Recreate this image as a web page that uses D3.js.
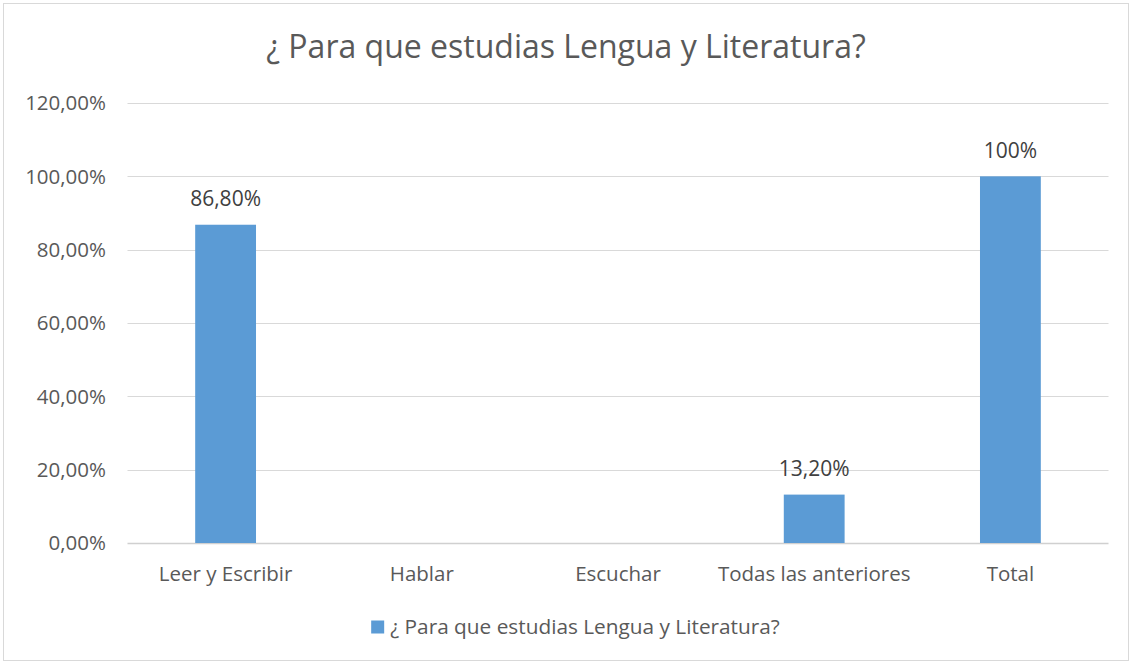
<!DOCTYPE html>
<meta charset="utf-8">
<style>
body { margin: 0; background: #fff; }
text { font-family: "Open Sans", sans-serif; }
.tick-label { font-size: 20.5px; fill: #595959; }
.cat-label { font-size: 20.5px; fill: #595959; }
.value-label { font-size: 21px; fill: #404040; }
.title { font-size: 32px; fill: #595959; }
.legend-label { font-size: 20.8px; fill: #595959; }
</style>
<svg width="1132" height="664"></svg>
<script src="https://cdn.jsdelivr.net/npm/d3@7"></script>
<script>

var categories = ["Leer y Escribir", "Hablar", "Escuchar", "Todas las anteriores", "Total"];
var values = [0.868, null, null, 0.132, 1.0];
var valueLabels = ["86,80%", "", "", "13,20%", "100%"];
var yTicks = [0, 0.2, 0.4, 0.6, 0.8, 1.0, 1.2];
var seriesName = "¿ Para que estudias Lengua y Literatura?";
var title = "¿ Para que estudias Lengua y Literatura?";

var svg = d3.select("svg");

// chart frame
svg.append("rect")
    .attr("x", 3.5).attr("y", 3.5)
    .attr("width", 1125).attr("height", 657)
    .attr("fill", "#fff")
    .attr("stroke", "#d9d9d9");

var x = d3.scaleBand()
    .domain(categories)
    .range([127.5, 1108.5])
    .paddingInner(0.69)
    .paddingOuter(0.345);

var y = d3.scaleLinear()
    .domain([0, 1.2])
    .range([543, 103]);

// gridlines
svg.append("g").selectAll("line")
    .data(yTicks)
    .enter().append("line")
      .attr("x1", 127.5).attr("x2", 1108.5)
      .attr("y1", function(d) { return Math.round(y(d)) + 0.5; })
      .attr("y2", function(d) { return Math.round(y(d)) + 0.5; })
      .attr("stroke", function(d) { return d === 0 ? "#d0d0d0" : "#d9d9d9"; })
      .attr("stroke-width", function(d) { return d === 0 ? 1.5 : 1; });

// y tick labels
var fmt = function(d) { return d3.format(".2f")(d * 100).replace(".", ",") + "%"; };
svg.append("g").selectAll("text")
    .data(yTicks)
    .enter().append("text")
      .attr("class", "tick-label")
      .attr("x", 106)
      .attr("y", function(d) { return y(d); })
      .attr("dy", "0.35em")
      .attr("text-anchor", "end")
      .text(fmt);

var data = categories.map(function(c, i) { return { cat: c, value: values[i], label: valueLabels[i] }; });

// bars
svg.append("g").selectAll("rect")
    .data(data.filter(function(d) { return d.value != null; }))
    .enter().append("rect")
      .attr("x", function(d) { return x(d.cat); })
      .attr("width", x.bandwidth())
      .attr("y", function(d) { return y(d.value); })
      .attr("height", function(d) { return y(0) - y(d.value); })
      .attr("fill", "#5b9bd5");

// value labels
svg.append("g").selectAll("text")
    .data(data.filter(function(d) { return d.value != null; }))
    .enter().append("text")
      .attr("class", "value-label")
      .attr("x", function(d) { return x(d.cat) + x.bandwidth() / 2; })
      .attr("y", function(d) { return y(d.value) - 26; })
      .attr("dy", "0.35em")
      .attr("text-anchor", "middle")
      .text(function(d) { return d.label; });

// category labels
svg.append("g").selectAll("text")
    .data(categories)
    .enter().append("text")
      .attr("class", "cat-label")
      .attr("x", function(d) { return x(d) + x.bandwidth() / 2; })
      .attr("y", 574)
      .attr("dy", "0.35em")
      .attr("text-anchor", "middle")
      .text(function(d) { return d; });

// title
svg.append("text")
    .attr("class", "title")
    .attr("x", 566)
    .attr("y", 47)
    .attr("dy", "0.35em")
    .attr("text-anchor", "middle")
    .text(title);

// legend
var legend = svg.append("g").attr("transform", "translate(585,627)");
var legendText = legend.append("text")
    .attr("class", "legend-label")
    .attr("x", 0)
    .attr("dy", "0.35em")
    .attr("text-anchor", "middle")
    .text(seriesName);
var bb = legendText.node().getBBox();
legend.append("rect")
    .attr("x", bb.x - 19).attr("y", -6.5)
    .attr("width", 13).attr("height", 13)
    .attr("fill", "#5b9bd5");

</script>
